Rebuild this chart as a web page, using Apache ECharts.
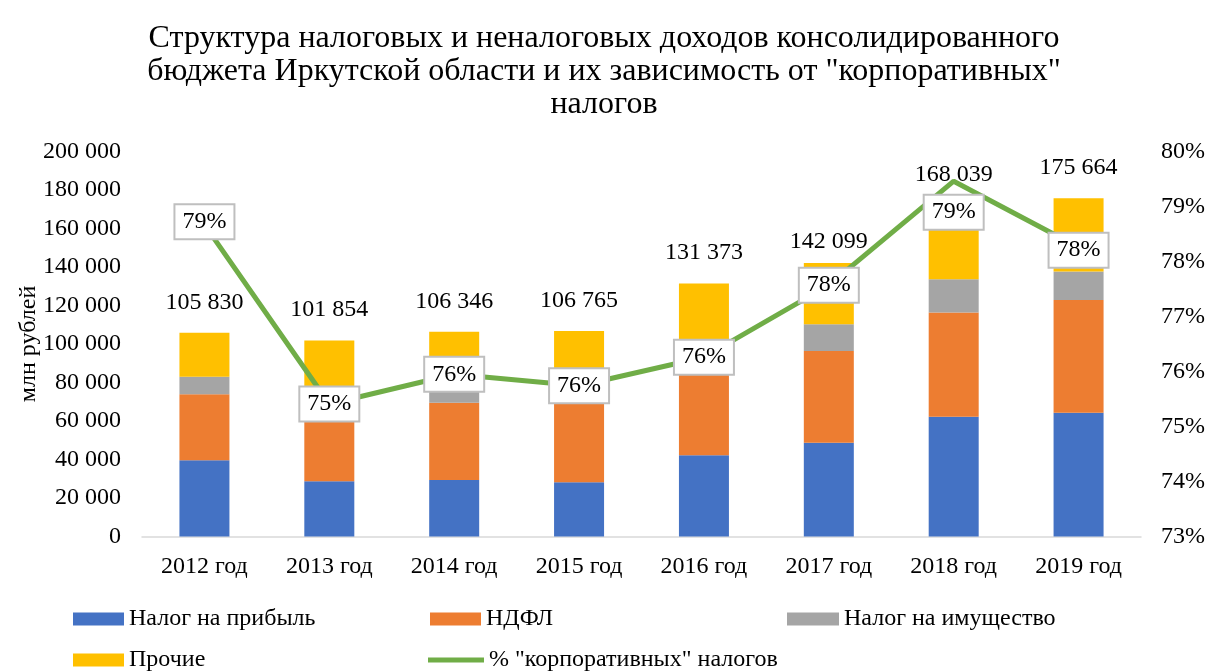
<!DOCTYPE html>
<html>
<head>
<meta charset="utf-8">
<script src="https://cdn.jsdelivr.net/npm/echarts@6/dist/echarts.min.js"></script>
<style>
html,body{margin:0;padding:0;background:#fff;}
#c{width:1208px;height:671px;}
</style>
</head>
<body>
<div id="c"></div>
<script>
var categories = ['2012 год','2013 год','2014 год','2015 год','2016 год','2017 год','2018 год','2019 год'];
var profitTax  = [39600, 28700, 29400, 28200, 42200, 48700, 62200, 64300];
var ndfl       = [34300, 36000, 40100, 41500, 43500, 47700, 54100, 58600];
var propTax    = [9100, 9500, 9500, 10000, 11500, 13800, 17300, 14700];
var other      = [22830, 27654, 27346, 27065, 34173, 31899, 34439, 38064];
var totals     = [105830, 101854, 106346, 106765, 131373, 142099, 168039, 175664];
var corpShare  = [78.67, 75.41, 75.95, 75.74, 76.26, 77.57, 79.46, 78.26];
var leftTicks  = {min: 0, max: 200000, interval: 20000};
var rightTicks = {min: 73, max: 80, interval: 1};

var FONT = '"Liberation Serif", "Times New Roman", serif';
var FS = 24;
function fmtNum(v){ return String(Math.round(v)).replace(/\B(?=(\d{3})+(?!\d))/g, ' '); }

var totalLabelOffsets = {5: [0, 9], 6: [0, -8]};
var pctLabelOffsets = {0: [0, -3], 6: [0, 31], 7: [0, 3]};

var chart = echarts.init(document.getElementById('c'), null, {renderer: 'canvas'});

function barSeries(name, data, color){
  return {name: name, type: 'bar', stack: 'total', data: data, barWidth: 50,
    itemStyle: {color: color}, yAxisIndex: 0, z: 2};
}
var legendText = {fontFamily: FONT, fontSize: FS, color: '#000'};

var option = {
  animation: false,
  backgroundColor: '#ffffff',
  textStyle: {fontFamily: FONT},
  title: {
    text: 'Структура налоговых и неналоговых доходов консолидированного\nбюджета Иркутской области и их зависимость от "корпоративных"\nналогов',
    left: 'center', top: 22, padding: 0,
    textStyle: {fontFamily: FONT, fontSize: 32, fontWeight: 'normal', color: '#000', lineHeight: 33}
  },
  grid: {left: 142, right: 66, top: 151.5, bottom: 134.5, containLabel: false},
  legend: [
    {left: 73, top: 607, padding: 0, itemWidth: 51, itemHeight: 13, icon: 'rect', data: ['Налог на прибыль'], textStyle: legendText},
    {left: 430, top: 607, padding: 0, itemWidth: 51, itemHeight: 13, icon: 'rect', data: ['НДФЛ'], textStyle: legendText},
    {left: 787, top: 607, padding: 0, itemWidth: 52, itemHeight: 13, icon: 'rect', data: ['Налог на имущество'], textStyle: legendText},
    {left: 73, top: 648, padding: 0, itemWidth: 51, itemHeight: 13, icon: 'rect', data: ['Прочие'], textStyle: legendText},
    {left: 428, top: 648, padding: 0, itemWidth: 56, itemHeight: 5, icon: 'rect', data: ['% "корпоративных" налогов'], textStyle: legendText}
  ],
  xAxis: {
    type: 'category', data: categories,
    axisLine: {lineStyle: {color: '#d9d9d9', width: 1.5}},
    axisTick: {show: false},
    axisLabel: {fontFamily: FONT, fontSize: FS, color: '#000', margin: 18}
  },
  yAxis: [
    {type: 'value', min: leftTicks.min, max: leftTicks.max, interval: leftTicks.interval,
      name: 'млн рублей', nameLocation: 'middle', nameGap: 101, nameRotate: 90, nameMoveOverlap: false,
      nameTextStyle: {fontFamily: FONT, fontSize: FS, color: '#000'},
      axisLine: {show: false}, axisTick: {show: false}, splitLine: {show: false},
      axisLabel: {fontFamily: FONT, fontSize: FS, color: '#000', margin: 21, formatter: fmtNum}},
    {type: 'value', min: rightTicks.min, max: rightTicks.max, interval: rightTicks.interval, position: 'right',
      axisLine: {show: false}, axisTick: {show: false}, splitLine: {show: false},
      axisLabel: {fontFamily: FONT, fontSize: FS, color: '#000', margin: 20, formatter: '{value}%'}}
  ],
  series: [
    barSeries('Налог на прибыль', profitTax, '#4472c4'),
    barSeries('НДФЛ', ndfl, '#ed7d31'),
    barSeries('Налог на имущество', propTax, '#a5a5a5'),
    barSeries('Прочие', other, '#ffc000'),
    {
      name: 'Итого', type: 'line', yAxisIndex: 0, z: 3,
      data: totals.map(function(v, i){
        var d = {value: v};
        if (totalLabelOffsets[i]) d.label = {offset: totalLabelOffsets[i]};
        return d;
      }),
      symbol: 'circle', symbolSize: 1, showSymbol: true,
      lineStyle: {width: 0, color: 'rgba(0,0,0,0)'}, itemStyle: {color: 'rgba(0,0,0,0)'},
      label: {show: true, position: 'top', distance: 18, fontFamily: FONT, fontSize: FS, color: '#000',
        formatter: function(p){ return fmtNum(p.value); }},
      silent: true
    },
    {
      name: '% "корпоративных" налогов', type: 'line', yAxisIndex: 1, z: 5,
      data: corpShare.map(function(v, i){
        var d = {value: v};
        if (pctLabelOffsets[i]) d.label = {offset: pctLabelOffsets[i]};
        return d;
      }),
      symbol: 'circle', symbolSize: 0, showSymbol: true,
      lineStyle: {color: '#70ad47', width: 5},
      itemStyle: {color: '#70ad47'},
      label: {show: true, position: 'inside', fontFamily: FONT, fontSize: FS, color: '#000',
        backgroundColor: '#fff', borderColor: '#bfbfbf', borderWidth: 2, padding: [5, 7, 4, 7],
        formatter: function(p){ return Math.round(p.value) + '%'; }}
    }
  ]
};
chart.setOption(option);
</script>
</body>
</html>
